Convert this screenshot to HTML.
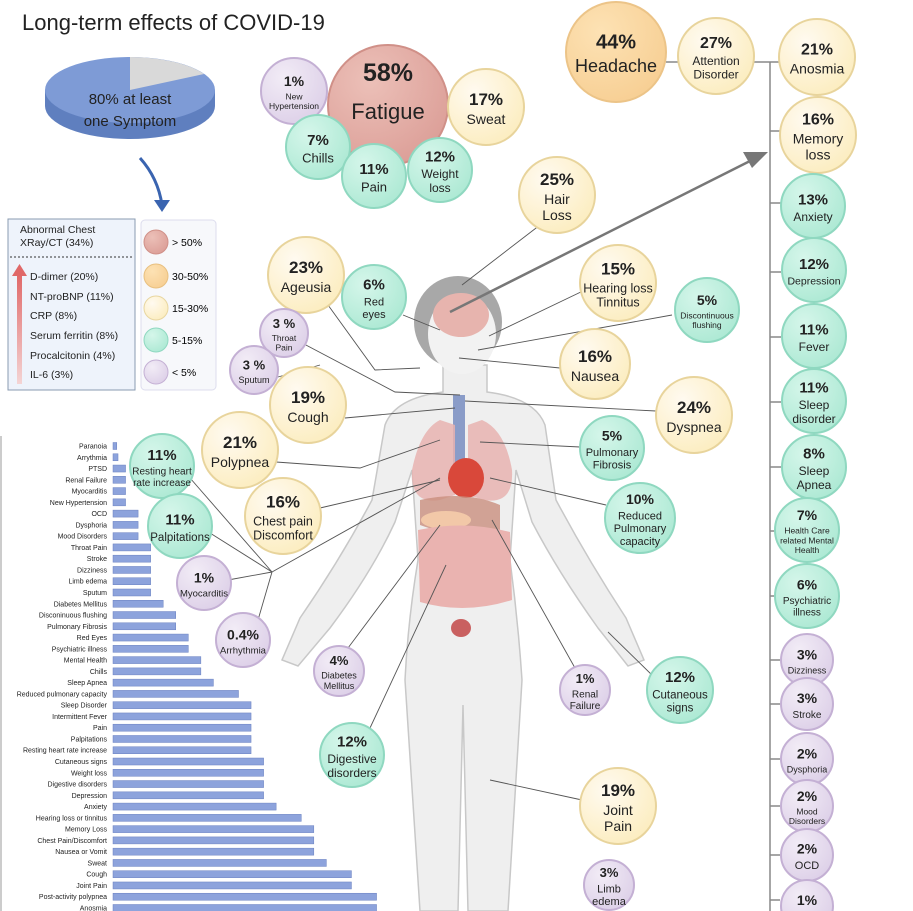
<!DOCTYPE html>
<html><head><meta charset="utf-8"><style>
html,body{margin:0;padding:0;background:#fff;}
svg{display:block;font-family:"Liberation Sans",sans-serif;}
</style></head><body>
<svg id="root" width="913" height="911" viewBox="0 0 913 911">
<defs>
<radialGradient id="gR" cx="35%" cy="30%" r="75%"><stop offset="0" stop-color="#ecc0b8"/><stop offset="1" stop-color="#dc9f98"/></radialGradient>
<radialGradient id="gO" cx="35%" cy="30%" r="75%"><stop offset="0" stop-color="#fde2b4"/><stop offset="1" stop-color="#f7cf94"/></radialGradient>
<radialGradient id="gY" cx="35%" cy="30%" r="75%"><stop offset="0" stop-color="#fffaf0"/><stop offset="1" stop-color="#fcedc0"/></radialGradient>
<radialGradient id="gT" cx="35%" cy="30%" r="75%"><stop offset="0" stop-color="#d5f6ea"/><stop offset="1" stop-color="#ade9d4"/></radialGradient>
<radialGradient id="gP" cx="35%" cy="30%" r="75%"><stop offset="0" stop-color="#f2ecf6"/><stop offset="1" stop-color="#ddd0e8"/></radialGradient>
<linearGradient id="arrowG" x1="0" y1="1" x2="0" y2="0"><stop offset="0" stop-color="#f4d4d4"/><stop offset="1" stop-color="#e06868"/></linearGradient>
</defs>
<text x="22" y="30" font-size="22" fill="#222">Long-term effects of COVID-19</text>

<g>
<path d="M45,90 L45,106 A85,33 0 0 0 215,106 L215,90 Z" fill="#5f7fbf"/>
<ellipse cx="130" cy="90" rx="85" ry="33" fill="#7e9bd6"/>
<path d="M130,90 L130,57 A85,33 0 0 1 204,74 Z" fill="#d9d9d9"/>
<text x="130" y="104" font-size="15" text-anchor="middle" fill="#222">80% at least</text>
<text x="130" y="126" font-size="15" text-anchor="middle" fill="#222">one Symptom</text>
</g>
<path d="M140,158 Q158,178 162,205" stroke="#3a64b0" stroke-width="3" fill="none"/>
<polygon points="154,200 170,200 162,212" fill="#3a64b0"/>

<g>
<rect x="8" y="219" width="127" height="171" fill="#eef3fb" stroke="#8a9bb0"/>
<text x="20" y="233" font-size="10.5" fill="#222">Abnormal Chest</text>
<text x="20" y="246" font-size="10.5" fill="#222">XRay/CT (34%)</text>
<line x1="10" y1="257" x2="133" y2="257" stroke="#333" stroke-dasharray="2,2"/>
<rect x="17" y="274" width="5" height="110" fill="url(#arrowG)"/>
<polygon points="12,276 27,276 19.5,264" fill="#e06868"/>
<text x="30" y="280" font-size="10.5" fill="#222">D-dimer (20%)</text>
<text x="30" y="300" font-size="10.5" fill="#222">NT-proBNP (11%)</text>
<text x="30" y="319" font-size="10.5" fill="#222">CRP (8%)</text>
<text x="30" y="339" font-size="10.5" fill="#222">Serum ferritin (8%)</text>
<text x="30" y="359" font-size="10.5" fill="#222">Procalcitonin (4%)</text>
<text x="30" y="378" font-size="10.5" fill="#222">IL-6 (3%)</text>
</g>
<g>
<rect x="141" y="220" width="75" height="170" rx="4" fill="#f7f8fb" stroke="#dde"/>
<circle cx="156" cy="242" r="12" fill="url(#gR)" stroke="#d09088"/><text x="172" y="246" font-size="10.5">&gt; 50%</text>
<circle cx="156" cy="276" r="12" fill="url(#gO)" stroke="#e8c080"/><text x="172" y="280" font-size="10.5">30-50%</text>
<circle cx="156" cy="308" r="12" fill="url(#gY)" stroke="#e8d6a0"/><text x="172" y="312" font-size="10.5">15-30%</text>
<circle cx="156" cy="340" r="12" fill="url(#gT)" stroke="#8fd8c0"/><text x="172" y="344" font-size="10.5">5-15%</text>
<circle cx="156" cy="372" r="12" fill="url(#gP)" stroke="#c4b0d4"/><text x="172" y="376" font-size="10.5">&lt; 5%</text>
</g>

<g>
<path d="M443,365 L443,392 Q395,398 385,425 L372,500 Q340,560 300,618 L282,660 L298,666 L330,628 Q372,572 395,522 L412,470 L418,560 Q408,620 405,680 L420,911 L458,911 L463,705 L468,911 L508,911 L522,680 Q518,620 510,560 L516,470 L532,522 Q558,572 598,628 L628,666 L644,660 L626,618 Q588,560 556,500 L545,425 Q535,398 487,392 L487,365 Z" fill="#efefef" stroke="#c8c8c8" stroke-width="1.5"/>
<ellipse cx="458" cy="322" rx="44" ry="46" fill="#a8a8a8"/>
<ellipse cx="462" cy="334" rx="34" ry="40" fill="#f2f2f2"/>
<ellipse cx="461" cy="315" rx="28" ry="22" fill="#e7b4ae"/>
<rect x="453" y="395" width="12" height="95" fill="#8a9cc8"/>
<path d="M440,420 Q420,430 412,470 Q410,505 440,500 L455,495 L455,425 Z" fill="#e8b3b0" opacity="0.85"/>
<path d="M482,420 Q505,430 512,470 Q514,505 484,500 L468,495 L468,425 Z" fill="#e8b3b0" opacity="0.85"/>
<ellipse cx="466" cy="478" rx="18" ry="20" fill="#d9483a"/>
<path d="M420,500 Q465,490 500,505 L500,530 Q460,540 420,525 Z" fill="#c98e7e" opacity="0.8"/>
<ellipse cx="446" cy="520" rx="25" ry="9" fill="#f2c8a8"/>
<path d="M418,530 Q465,520 510,532 L512,600 Q465,615 420,602 Z" fill="#eab3b0"/>
<ellipse cx="461" cy="628" rx="10" ry="9" fill="#c96060"/>
</g>

<g stroke="#555" stroke-width="0.9" fill="none">
<line x1="540" y1="225" x2="462" y2="285"/>
<line x1="585" y1="290" x2="489" y2="336"/>
<line x1="672" y1="315" x2="478" y2="350"/>
<line x1="560" y1="368" x2="459" y2="358"/>
<line x1="656" y1="411" x2="465" y2="401"/>
<line x1="580" y1="447" x2="480" y2="442"/>
<line x1="606" y1="505" x2="490" y2="478"/>
<line x1="403" y1="315" x2="440" y2="330"/>
<polyline points="328,305 375,370 420,368"/>
<polyline points="304,344 395,392 460,395"/>
<line x1="278" y1="377" x2="320" y2="365"/>
<line x1="345" y1="418" x2="455" y2="408"/>
<polyline points="276,462 360,468 440,440"/>
<line x1="320" y1="508" x2="440" y2="480"/>
<line x1="190" y1="478" x2="272" y2="572"/>
<line x1="210" y1="533" x2="272" y2="572"/>
<line x1="228" y1="580" x2="272" y2="572"/>
<line x1="272" y1="572" x2="440" y2="478"/>
<line x1="258" y1="620" x2="272" y2="572"/>
<line x1="348" y1="648" x2="440" y2="525"/>
<line x1="370" y1="728" x2="446" y2="565"/>
<line x1="575" y1="668" x2="492" y2="520"/>
<line x1="655" y1="678" x2="608" y2="632"/>
<line x1="582" y1="800" x2="490" y2="780"/>
</g>
<line x1="450" y1="312" x2="752" y2="160" stroke="#777" stroke-width="2.5"/>
<polygon points="768,152 743,152 752,168" fill="#777"/>

<g stroke="#888" stroke-width="1.5">
<line x1="666" y1="62" x2="680" y2="62"/>
<line x1="754" y1="62" x2="780" y2="62"/>
<line x1="770" y1="62" x2="770" y2="911"/>
<line x1="770" y1="131" x2="780" y2="131"/>
<line x1="770" y1="203" x2="781" y2="203"/>
<line x1="770" y1="272" x2="781" y2="272"/>
<line x1="770" y1="337" x2="781" y2="337"/>
<line x1="770" y1="402" x2="781" y2="402"/>
<line x1="770" y1="467" x2="781" y2="467"/>
<line x1="770" y1="531" x2="776" y2="531"/>
<line x1="770" y1="596" x2="776" y2="596"/>
<line x1="770" y1="660" x2="780" y2="660"/>
<line x1="770" y1="704" x2="780" y2="704"/>
<line x1="770" y1="759" x2="780" y2="759"/>
<line x1="770" y1="806" x2="780" y2="806"/>
<line x1="770" y1="855" x2="780" y2="855"/>
<line x1="770" y1="900" x2="780" y2="900"/>
</g>

<g id="bubbles"></g>

<line x1="1" y1="436" x2="1" y2="911" stroke="#ccc" stroke-width="2"/>
<g id="barchart"></g>
</svg>
<script>
const categories = ["Paranoia","Arrythmia","PTSD","Renal Failure","Myocarditis","New Hypertension","OCD","Dysphoria","Mood Disorders","Throat Pain","Stroke","Dizziness","Limb edema","Sputum","Diabetes Mellitus","Disconinuous flushing","Pulmonary Fibrosis","Red Eyes","Psychiatric illness","Mental Health","Chills","Sleep Apnea","Reduced pulmonary capacity","Sleep Disorder","Intermittent Fever","Pain","Palpitations","Resting heart rate increase","Cutaneous signs","Weight loss","Digestive disorders","Depression","Anxiety","Hearing loss or tinnitus","Memory Loss","Chest Pain/Discomfort","Nausea or Vomit","Sweat","Cough","Joint Pain","Post-activity polypnea","Anosmia"];
const values = [0.3,0.4,1,1,1,1,2,2,2,3,3,3,3,3,4,5,5,6,6,7,7,8,10,11,11,11,11,11,12,12,12,12,13,15,16,16,16,17,19,19,21,21];

const NS="http://www.w3.org/2000/svg";
const bc=document.getElementById('barchart');
const x0=113, pxPerUnit=12.55, yTop=446, yBot=908;
function xScale(v){return x0+v*pxPerUnit;}
function yScale(i){return yTop+i*(yBot-yTop)/(categories.length-1);}
categories.forEach((c,i)=>{
  const y=yScale(i);
  const r=document.createElementNS(NS,'rect');
  r.setAttribute('x',x0);r.setAttribute('y',y-3.5);
  r.setAttribute('width',xScale(values[i])-x0);r.setAttribute('height',7);
  r.setAttribute('fill','#8da3dc');r.setAttribute('stroke','#6a80c0');r.setAttribute('stroke-width','0.5');
  
  
  bc.appendChild(r);
  const t=document.createElementNS(NS,'text');
  t.setAttribute('x',107);t.setAttribute('y',y+2.5);t.setAttribute('text-anchor','end');
  t.setAttribute('font-size','7');t.setAttribute('fill','#222');
  t.textContent=c;
  
  
  bc.appendChild(t);
});

const bubbleData=[
[388,105,60,'R','58%',['Fatigue'],25,22],
[294,91,33,'P','1%',['New','Hypertension'],14,8.5],
[318,147,32,'T','7%',['Chills'],15,13],
[374,176,32,'T','11%',['Pain'],15,13],
[440,170,32,'T','12%',['Weight','loss'],15,12],
[486,107,38,'Y','17%',['Sweat'],17,14],
[616,52,50,'O','44%',['Headache'],20,18],
[716,56,38,'Y','27%',['Attention','Disorder'],16,12],
[817,57,38,'Y','21%',['Anosmia'],16,14],
[818,135,38,'Y','16%',['Memory','loss'],16,14],
[813,206,32,'T','13%',['Anxiety'],15,12],
[814,270,32,'T','12%',['Depression'],15,10.5],
[814,336,32,'T','11%',['Fever'],15,12],
[814,401,32,'T','11%',['Sleep','disorder'],15,12],
[814,467,32,'T','8%',['Sleep','Apnea'],15,12],
[807,530,32,'T','7%',['Health Care','related Mental','Health'],14,8.5],
[807,596,32,'T','6%',['Psychiatric','illness'],14,10],
[807,660,26,'P','3%',['Dizziness'],14,9],
[807,704,26,'P','3%',['Stroke'],14,10],
[807,759,26,'P','2%',['Dysphoria'],14,9],
[807,806,26,'P','2%',['Mood','Disorders'],14,8.5],
[807,855,26,'P','2%',['OCD'],14,11],
[807,906,26,'P','1%',[''],14,10],
[557,195,38,'Y','25%',['Hair','Loss'],17,14],
[618,283,38,'Y','15%',['Hearing loss','Tinnitus'],17,12.5],
[707,310,32,'T','5%',['Discontinuous','flushing'],14,8.5],
[595,364,35,'Y','16%',['Nausea'],17,14],
[694,415,38,'Y','24%',['Dyspnea'],17,14],
[612,448,32,'T','5%',['Pulmonary','Fibrosis'],14,11],
[640,518,35,'T','10%',['Reduced','Pulmonary','capacity'],14,11],
[306,275,38,'Y','23%',['Ageusia'],17,14],
[374,297,32,'T','6%',['Red','eyes'],15,11],
[284,333,24,'P','3 %',['Throat','Pain'],13,8.5],
[254,370,24,'P','3 %',['Sputum'],13,9],
[308,405,38,'Y','19%',['Cough'],17,14],
[240,450,38,'Y','21%',['Polypnea'],17,14],
[283,516,38,'Y','16%',['Chest pain','Discomfort'],17,12.5],
[162,466,32,'T','11%',['Resting heart','rate increase'],15,10],
[180,526,32,'T','11%',['Palpitations'],15,11.5],
[204,583,27,'P','1%',['Myocarditis'],14,9.5],
[243,640,27,'P','0.4%',['Arrhythmia'],14,9.5],
[339,671,25,'P','4%',['Diabetes','Mellitus'],13,9],
[352,755,32,'T','12%',['Digestive','disorders'],15,12],
[585,690,25,'P','1%',['Renal','Failure'],13,10],
[680,690,33,'T','12%',['Cutaneous','signs'],15,11.5],
[618,806,38,'Y','19%',['Joint','Pain'],17,14],
[609,885,25,'P','3%',['Limb','edema'],13,11]
];
const fills={R:['url(#gR)','#d09088'],O:['url(#gO)','#ecc488'],Y:['url(#gY)','#e8d49c'],T:['url(#gT)','#8fd8c0'],P:['url(#gP)','#c4b0d4']};
const bg=document.getElementById('bubbles');
bubbleData.forEach(b=>{
  const [cx,cy,r,col,pct,lines,ps,ls]=b;
  const g=document.createElementNS(NS,'g');
  
  
  const c=document.createElementNS(NS,'circle');
  c.setAttribute('cx',cx);c.setAttribute('cy',cy);c.setAttribute('r',r);
  c.setAttribute('fill',fills[col][0]);c.setAttribute('stroke',fills[col][1]);c.setAttribute('stroke-width','2');
  g.appendChild(c);
  const n=lines.length;
  const lh=ls*1.15;
  const total=ps+n*lh;
  let y=(col==='R')?cy-24:cy-total/2+ps*0.85;
  const t=document.createElementNS(NS,'text');
  t.setAttribute('x',cx);t.setAttribute('y',y);t.setAttribute('text-anchor','middle');
  t.setAttribute('font-size',ps);t.setAttribute('font-weight','bold');t.setAttribute('fill','#222');
  t.textContent=pct;g.appendChild(t);
  y+=(col==='R')?18:ps*0.25+2;
  lines.forEach(l=>{
    y+=lh;
    const u=document.createElementNS(NS,'text');
    u.setAttribute('x',cx);u.setAttribute('y',y-lh*0.2);u.setAttribute('text-anchor','middle');
    u.setAttribute('font-size',ls);u.setAttribute('fill','#222');
    u.textContent=l;g.appendChild(u);
  });
  bg.appendChild(g);
});
</script>
</body></html>
